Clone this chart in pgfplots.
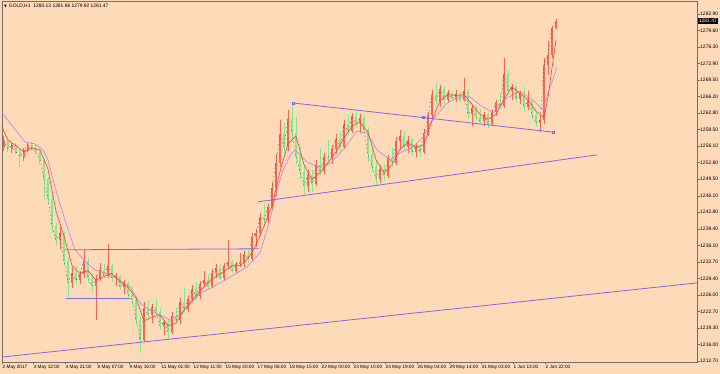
\documentclass[border=0pt]{standalone}
\usepackage{pgfplots}
\pgfplotsset{compat=1.18}
\usepackage{pgfplotstable}
\usepackage{fontspec}
\setmainfont{Liberation Sans}
\newfontfamily\dejavu{DejaVu Sans}
\definecolor{bg}{HTML}{FFDAB9}
\definecolor{bull}{HTML}{FF6347}
\definecolor{bear}{HTML}{7CEB8C}
\definecolor{trend}{HTML}{7B68EE}
\definecolor{maslow}{HTML}{C27FDD}
\definecolor{mafast}{HTML}{FF3B30}
\definecolor{frame}{HTML}{6E6E6E}

\pgfplotstableread{
x o h l c
4 1256.0 1258.2 1255.2 1257.3
8 1257.3 1257.6 1255.0 1255.6
12 1255.6 1257.0 1254.8 1256.5
16 1256.5 1256.9 1254.6 1255.0
20 1255.0 1255.6 1252.0 1254.0
24 1254.0 1255.8 1253.2 1255.4
28 1255.4 1256.8 1254.9 1256.4
32 1256.4 1257.0 1255.3 1255.8
36 1255.8 1256.6 1254.6 1255.0
40 1255.0 1255.4 1252.6 1253.4
44 1253.4 1253.8 1245.3 1249.5
48 1249.5 1250.0 1244.5 1245.5
52 1245.5 1246.5 1238.5 1240.0
56 1240.0 1240.6 1236.0 1237.2
60 1237.2 1239.8 1235.4 1238.6
64 1238.6 1239.0 1232.0 1233.0
68 1233.0 1233.6 1225.6 1228.5
72 1228.5 1231.5 1227.5 1230.5
76 1230.5 1232.0 1228.0 1229.0
80 1229.0 1231.0 1228.3 1230.4
84 1230.4 1235.2 1229.6 1233.0
88 1233.0 1233.5 1228.5 1229.5
92 1229.5 1230.5 1226.6 1227.8
96 1227.8 1230.0 1221.0 1229.3
100 1229.3 1232.6 1228.8 1231.2
104 1231.2 1232.4 1229.4 1230.0
108 1230.0 1236.4 1229.6 1232.0
112 1232.0 1232.3 1228.6 1229.4
116 1229.4 1230.6 1227.8 1229.8
120 1229.8 1230.0 1227.0 1227.6
124 1227.6 1229.0 1226.2 1228.4
128 1228.4 1228.8 1225.6 1226.2
132 1226.2 1227.6 1224.0 1225.0
136 1225.0 1225.6 1220.0 1221.0
140 1221.0 1222.0 1214.3 1217.0
144 1217.0 1224.6 1216.5 1223.5
148 1223.5 1225.0 1221.0 1222.0
152 1222.0 1224.2 1220.4 1223.6
156 1223.6 1225.2 1222.0 1222.6
160 1222.6 1223.4 1219.0 1219.8
164 1219.8 1221.0 1218.0 1220.6
168 1220.6 1221.2 1217.0 1218.6
172 1218.6 1222.6 1218.2 1221.8
176 1221.8 1223.4 1220.4 1220.9
180 1220.9 1225.4 1220.2 1224.6
184 1224.6 1227.6 1222.4 1223.2
188 1223.2 1225.8 1222.6 1225.2
192 1225.2 1228.0 1224.6 1227.2
196 1227.2 1228.6 1225.0 1225.8
200 1225.8 1228.8 1225.2 1228.2
204 1228.2 1231.0 1227.6 1229.0
208 1229.0 1230.4 1227.0 1227.8
212 1227.8 1231.4 1227.4 1230.6
216 1230.6 1232.4 1229.4 1231.6
220 1231.6 1232.4 1229.0 1229.6
224 1229.6 1232.6 1228.8 1232.0
228 1232.0 1237.2 1231.4 1232.8
232 1232.8 1233.2 1230.5 1231.0
236 1231.0 1232.8 1230.6 1232.4
240 1232.4 1234.6 1231.8 1232.6
244 1232.6 1235.0 1231.8 1234.2
248 1234.2 1235.2 1232.6 1233.4
252 1233.4 1238.6 1233.0 1237.8
256 1237.8 1239.4 1235.8 1238.6
260 1238.6 1242.6 1238.0 1241.8
264 1241.8 1244.6 1239.8 1241.2
268 1241.2 1244.4 1240.6 1243.8
272 1243.8 1249.0 1243.4 1247.8
276 1247.8 1254.6 1246.0 1252.8
280 1252.8 1261.4 1252.0 1258.6
284 1258.6 1261.0 1254.0 1256.0
288 1256.0 1263.4 1255.2 1261.6
292 1261.6 1264.9 1257.0 1258.8
296 1258.8 1262.0 1252.6 1254.0
300 1254.0 1256.0 1249.6 1251.0
304 1251.0 1252.6 1246.4 1248.2
308 1248.2 1251.4 1246.8 1250.4
312 1250.4 1251.4 1247.0 1248.6
316 1248.6 1253.4 1248.2 1252.4
320 1252.4 1255.8 1250.2 1251.2
324 1251.2 1254.8 1250.6 1254.0
328 1254.0 1257.4 1253.0 1253.8
332 1253.8 1256.4 1252.6 1255.6
336 1255.6 1258.6 1254.6 1257.6
340 1257.6 1259.0 1254.8 1256.0
344 1256.0 1261.4 1255.6 1260.6
348 1260.6 1262.6 1258.4 1259.2
352 1259.2 1262.8 1258.8 1262.2
356 1262.2 1263.4 1259.8 1260.8
360 1260.8 1262.6 1258.8 1261.8
364 1261.8 1262.4 1258.6 1259.4
368 1259.4 1260.0 1253.0 1254.6
372 1254.6 1256.0 1251.2 1252.0
376 1252.0 1253.4 1248.4 1249.6
380 1249.6 1252.4 1248.8 1251.6
384 1251.6 1252.6 1249.2 1250.2
388 1250.2 1254.4 1249.8 1253.8
392 1253.8 1255.8 1252.0 1252.8
396 1252.8 1258.0 1252.4 1257.2
400 1257.2 1259.4 1255.4 1258.2
404 1258.2 1259.2 1255.4 1256.0
408 1256.0 1258.2 1254.8 1257.4
412 1257.4 1257.8 1254.2 1255.0
416 1255.0 1256.8 1254.0 1256.2
420 1256.2 1256.6 1254.0 1255.0
424 1255.0 1259.6 1254.6 1258.8
428 1258.8 1263.0 1258.2 1262.4
432 1262.4 1267.6 1261.6 1266.6
436 1266.6 1268.9 1264.4 1265.4
440 1265.4 1268.6 1264.0 1267.8
444 1267.8 1268.4 1264.6 1265.6
448 1265.6 1267.6 1265.0 1267.0
452 1267.0 1267.4 1265.2 1265.8
456 1265.8 1267.6 1265.2 1266.8
460 1266.8 1267.2 1265.0 1265.6
464 1265.6 1270.0 1265.2 1267.4
468 1267.4 1267.8 1261.6 1262.6
472 1262.6 1264.6 1260.2 1263.8
476 1263.8 1264.4 1261.2 1262.0
480 1262.0 1263.6 1260.6 1261.2
484 1261.2 1263.0 1260.2 1262.4
488 1262.4 1262.8 1259.8 1260.6
492 1260.6 1263.4 1260.2 1263.0
496 1263.0 1265.6 1262.2 1265.0
500 1265.0 1267.0 1263.6 1264.2
504 1264.2 1274.0 1263.8 1270.8
508 1270.8 1271.6 1266.6 1267.4
512 1267.4 1268.8 1265.6 1268.2
516 1268.2 1268.6 1265.0 1265.8
520 1265.8 1267.4 1264.6 1266.8
524 1266.8 1268.2 1263.0 1264.0
528 1264.0 1267.4 1263.4 1265.4
532 1265.4 1265.8 1261.6 1262.4
536 1262.4 1263.0 1260.0 1260.8
540 1260.8 1262.2 1259.0 1261.4
544 1261.4 1274.0 1260.6 1272.6
548 1272.6 1277.4 1270.6 1274.6
552 1274.6 1280.4 1274.0 1280.1
556 1280.13 1281.86 1279.92 1281.47
}\candles

\begin{document}
\begin{tikzpicture}
\path[use as bounding box, fill=bg] (-2pt,-12pt) rectangle (718pt,362pt);
\begin{axis}[
  at={(0pt,0pt)}, anchor=south west,
  scale only axis, width=695pt, height=361pt,
  xmin=2, xmax=697, ymin=1212.50, ymax=1285.53,
  axis line style={frame, line width=0.8pt},
  xtick pos=left, ytick pos=right, yticklabel pos=right,
  tick align=outside, major tick length=2.5pt,
  tick style={frame, line width=0.5pt},
  xtick={2,33,65,97,129,161,193,225,257,289,321,353,385,417,449,481,513,545},
  xticklabels={2 May 2017,3 May 12:00,4 May 21:00,8 May 07:00,9 May 16:00,11 May 01:00,12 May 11:00,15 May 20:00,17 May 06:00,18 May 15:00,22 May 00:00,23 May 10:00,24 May 19:00,26 May 04:00,29 May 14:00,31 May 03:00,1 Jun 13:00,2 Jun 22:00},
  xticklabel style={anchor=north west, inner sep=0pt, xshift=0.5pt, yshift=-0.5pt, font=\fontsize{4.7}{5}\selectfont},
  ytick={1212.70,1216.04,1219.39,1222.73,1226.07,1229.42,1232.76,1236.10,1239.44,1242.79,1246.13,1249.47,1252.82,1256.16,1259.50,1262.84,1266.19,1269.53,1272.87,1276.22,1279.56,1282.90},
  yticklabels={1212.70,1216.00,1219.30,1222.70,1226.00,1229.40,1232.70,1236.10,1239.40,1242.80,1246.10,1249.50,1252.80,1256.10,1259.50,1262.80,1266.20,1269.50,1272.90,1276.30,1279.60,1282.90},
  yticklabel style={anchor=west, inner sep=0pt, xshift=0.5pt, font=\fontsize{5}{5.5}\selectfont},
  clip=true,
]
% bear candles (green)
\addplot[draw=none, no markers, forget plot,
  error bars/.cd, y dir=both, y explicit, error mark=none,
  error bar style={draw=bear, line width=1pt}]
  table[x=x, y expr={\thisrow{c}<\thisrow{o} ? (\thisrow{h}+\thisrow{l})/2 : nan},
        y error expr={(\thisrow{h}-\thisrow{l})/2}] {\candles};
\addplot[draw=none, no markers, forget plot,
  error bars/.cd, y dir=both, y explicit, error mark=none,
  error bar style={draw=bear, line width=2.9pt}]
  table[x=x, y expr={\thisrow{c}<\thisrow{o} ? (\thisrow{o}+\thisrow{c})/2 : nan},
        y error expr={abs(\thisrow{o}-\thisrow{c})/2}] {\candles};
% bull candles (red)
\addplot[draw=none, no markers, forget plot,
  error bars/.cd, y dir=both, y explicit, error mark=none,
  error bar style={draw=bull, line width=1pt}]
  table[x=x, y expr={\thisrow{c}>=\thisrow{o} ? (\thisrow{h}+\thisrow{l})/2 : nan},
        y error expr={(\thisrow{h}-\thisrow{l})/2}] {\candles};
\addplot[draw=none, no markers, forget plot,
  error bars/.cd, y dir=both, y explicit, error mark=none,
  error bar style={draw=bull, line width=2.9pt}]
  table[x=x, y expr={\thisrow{c}>=\thisrow{o} ? (\thisrow{o}+\thisrow{c})/2 : nan},
        y error expr={abs(\thisrow{o}-\thisrow{c})/2}] {\candles};
% close dashed
\addplot[black!80, no markers, line width=0.35pt, dash pattern=on 1pt off 3pt, forget plot] table[x=x, y=c] {\candles};
% slow MA
\addplot[maslow, no markers, line width=0.6pt, forget plot] coordinates {
(2,1262.9) (25,1257.0) (35,1256.6) (43,1255.4) (48,1253.4) (55,1247.9) (65,1241.2) (75,1235.2)
(85,1232.9) (95,1231.1) (105,1230.5) (115,1229.7) (130,1227.7) (140,1224.4) (150,1223.0) (170,1221.0)
(180,1222.0) (200,1226.4) (213,1227.7) (230,1229.7) (247,1231.7) (260,1234.6) (270,1241.2) (277,1247.3)
(283,1251.3) (290,1254.2) (295,1255.4) (300,1254.4) (307,1253.0) (317,1252.0) (330,1252.6) (343,1255.4)
(357,1259.2) (367,1258.8) (377,1255.4) (390,1253.4) (400,1254.8) (413,1256.0) (423,1258.0) (433,1261.5)
(447,1264.9) (460,1266.1) (470,1266.1) (480,1264.5) (493,1262.9) (507,1265.9) (520,1267.3) (533,1265.5)
(543,1263.5) (548,1266.9) (557,1272.0)};
% fast MA
\addplot[mafast, no markers, line width=0.6pt, forget plot] coordinates {
(2,1260.0) (8,1257.4) (16,1256.2) (24,1255.0) (32,1255.8) (40,1255.4) (48,1251.5) (56,1243.0)
(64,1238.0) (72,1232.0) (80,1230.4) (88,1231.0) (96,1229.0) (104,1229.8) (112,1230.4) (120,1228.8)
(128,1227.6) (136,1225.4) (144,1220.8) (152,1221.6) (160,1222.0) (168,1219.8) (176,1220.4) (184,1223.0)
(192,1225.0) (200,1226.8) (208,1228.6) (216,1229.8) (224,1230.8) (232,1232.0) (240,1232.0) (248,1233.4)
(256,1236.2) (264,1240.0) (272,1244.0) (280,1251.0) (288,1256.6) (296,1258.2) (304,1252.4) (312,1249.4)
(320,1250.8) (328,1252.8) (336,1255.0) (344,1257.8) (352,1260.2) (360,1261.0) (368,1259.0) (376,1253.4)
(384,1250.8) (392,1252.4) (400,1255.6) (408,1256.8) (416,1256.0) (424,1256.4) (432,1261.4) (440,1265.4)
(448,1266.6) (456,1266.4) (464,1266.6) (472,1264.6) (480,1262.6) (488,1261.6) (496,1262.6) (504,1265.6)
(512,1268.2) (520,1266.8) (528,1265.6) (536,1263.2) (544,1262.0) (548,1266.0) (552,1272.0) (556,1277.6)};
% trend lines
\addplot[trend, no markers, line width=0.8pt, forget plot] coordinates {(2,1213.5) (697,1228.5)};
\addplot[trend, no markers, line width=0.8pt, forget plot] coordinates {(258,1244.9) (597,1254.4)};
\addplot[trend, no markers, line width=0.8pt, forget plot] coordinates {(65,1235.2) (259,1235.4)};
\addplot[trend, no markers, line width=0.8pt, forget plot] coordinates {(66,1225.4) (130,1225.4)};
\addplot[trend, line width=0.8pt, mark=square, mark size=1.1pt, mark options={fill=bg, line width=0.5pt}, forget plot]
  coordinates {(293,1264.9) (423,1261.95) (553,1259.0)};
\coordinate (cp) at (axis cs:697,1281.47);
\end{axis}
\node[anchor=west, inner sep=0pt, font=\fontsize{4.9}{5}\selectfont] at (2pt,355.5pt)
  {{\dejavu\fontsize{3.6}{4}\selectfont ▼}\hspace{2pt}GOLD,H1\hspace{3pt}1280.13 1281.86 1279.92 1281.47};
\node[anchor=west, fill=black, text=white, inner xsep=1pt, inner ysep=0.8pt, font=\fontsize{5}{5.5}\selectfont] at ([xshift=0.6pt]cp) {1281.47};
\end{tikzpicture}
\end{document}
